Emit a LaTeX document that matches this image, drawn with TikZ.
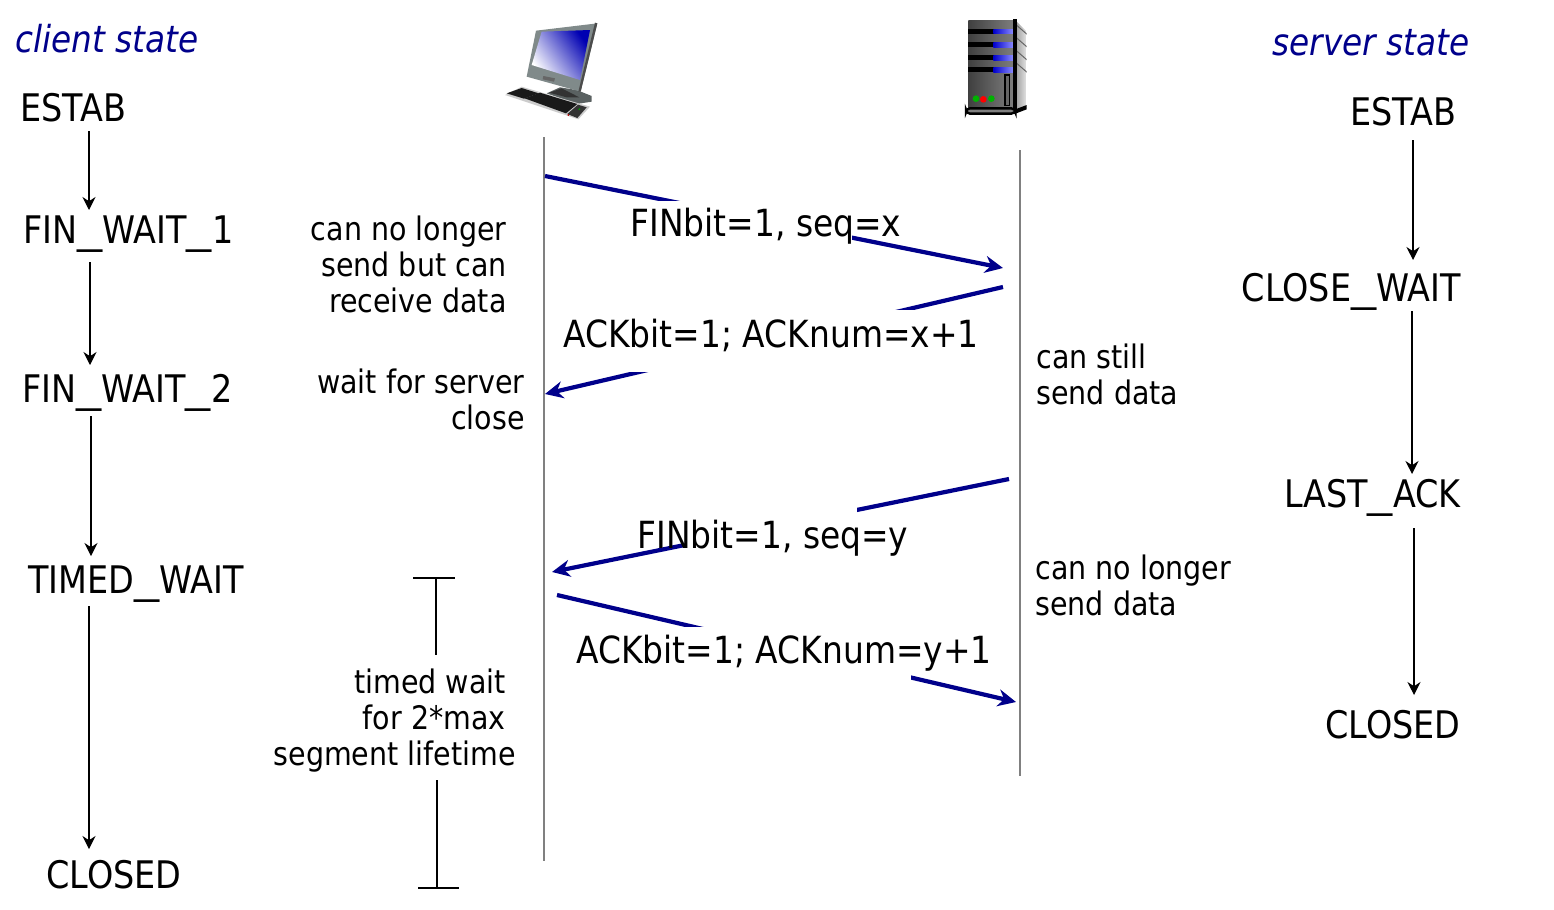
\documentclass[tikz,border=0pt]{standalone}
\usepackage{xcolor}
\usepackage{graphicx}
\usepackage{fontspec}
\setmainfont[FakeStretch=0.88]{DejaVu Sans}
\usetikzlibrary{arrows.meta}
\definecolor{msgblue}{RGB}{0,0,139}
\definecolor{railgray}{RGB}{128,128,128}
\definecolor{framegray}{RGB}{128,138,138}
\newcommand{\ubar}{\scalebox{1.5}[1]{\_}}
\tikzset{
    statelabel/.style={inner sep=0pt,anchor=base west,font=\fontsize{19}{22}\selectfont},
    statelabelr/.style={statelabel,anchor=base east},
    headlabel/.style={inner sep=0pt,anchor=base west,text=msgblue,font=\fontsize{18.6}{22}\selectfont\itshape},
    msglabel/.style={inner sep=0pt,anchor=base west,font=\fontsize{18.7}{22}\selectfont},
    notelabel/.style={inner sep=0pt,font=\fontsize{16.2}{18}\selectfont},
    statearrow/.style={-{Stealth[length=6.5pt,width=6.5pt]},line width=0.6pt,black},
    msgarrow/.style={-{Stealth[length=9pt,width=8.5pt]},line width=2.1pt,msgblue},
    rail/.style={line width=0.7pt,railgray},
    msgmask/.style={fill=white}
}
\begin{document}
\begin{tikzpicture}[x=0.5pt,y=-0.5pt]
    \useasboundingbox (0,0) rectangle (1554,910);

    % Timelines
    \coordinate (clienttop) at (544,137);
    \coordinate (clientbot) at (544,861);
    \coordinate (servertop) at (1020,150);
    \coordinate (serverbot) at (1020,776);
    \draw[rail] (clienttop) -- (clientbot);
    \draw[rail] (servertop) -- (serverbot);

    % Client computer
    \begin{scope}[shift={(490,10)},x=0.16667pt,y=-0.16667pt]
        \fill[framegray!70!black] (170,250) -- (210,232) -- (260,240) -- (305,258) -- (305,275) -- (260,282) -- cycle;
        \fill[black!80] (178,248) -- (215,235) -- (268,262) -- (230,262) -- cycle;
        \fill[framegray] (138,62) -- (322,40) -- (272,245) -- (110,200) -- cycle;
        \fill[black!70] (322,40) -- (315,38) -- (265,245) -- (272,245) -- cycle;
        \shade[left color=white,right color=blue!70!black,shading angle=125] (155,65) -- (300,60) -- (270,210) -- (125,165) -- cycle;
        \fill[black!60] (160,198) -- (195,205) -- (192,215) -- (158,208) -- cycle;
        \fill[gray!40] (45,255) -- (95,230) -- (300,290) -- (265,328) -- cycle;
        \fill[black!90] (50,250) -- (95,234) -- (146,250) -- (102,266) -- cycle;
        \fill[black!90] (104,265) -- (150,248) -- (262,282) -- (228,310) -- cycle;
        \fill[black!80] (232,312) -- (264,284) -- (290,292) -- (262,324) -- cycle;
        \fill[red!70!black] (235,315) circle (3);
        \fill[green!60!black] (268,298) circle (3);
    \end{scope}

    % Server
    \begin{scope}[shift={(950,10)},x=0.16667pt,y=-0.16667pt]
        \shade[left color=black!75,right color=black!50] (55,30) rectangle (195,295);
        \shade[left color=black!40,right color=black!10] (195,30) -- (230,65) -- (230,290) -- (195,305) -- cycle;
        \foreach \y/\h in {58/13,96/15,135/15,172/15} {
            \fill[black] (55,\y) rectangle (135,\y+\h);
            \shade[left color=blue!80!black,right color=blue!45!white] (130,\y) rectangle (190,\y+\h);
            \fill[black!60] (200,\y-14) -- (230,\y+12) -- (230,\y+16) -- (200,\y-10) -- cycle;
        }
        \fill[black] (162,192) rectangle (181,289);
        \fill[black!60] (167,197) rectangle (176,284);
        \fill[green!70!black] (78,266) circle (10);
        \fill[green!70!black] (124,266) circle (10);
        \fill[red] (100,268) circle (10);
        \fill[black] (190,28) rectangle (202,305);
        \draw[line width=1.2pt,black,rounded corners=2pt,fill=black!50] (48,295) rectangle (196,311);
        \fill[black] (196,298) -- (230,285) -- (230,298) -- (196,311) -- cycle;
    \end{scope}

    % Client states
    \node[headlabel] (clienthead) at (15,52) {client state};
    \node[statelabel] (estabc) at (20,121) {ESTAB};
    \node[statelabel] (fwone) at (23,243) {FIN\ubar WAIT\ubar 1};
    \node[statelabel] (fwtwo) at (22,402) {FIN\ubar WAIT\ubar 2};
    \node[statelabel] (timedw) at (28,593) {TIMED\ubar WAIT};
    \node[statelabel] (closedc) at (46,888) {CLOSED};
    \draw[statearrow] ([xshift=34.5pt,yshift=-5pt]estabc.base west) -- ([xshift=33pt,yshift=16.5pt]fwone.base west);
    \draw[statearrow] ([xshift=33.5pt,yshift=-9.5pt]fwone.base west) -- ([xshift=34pt,yshift=18.5pt]fwtwo.base west);
    \draw[statearrow] ([xshift=34.5pt,yshift=-7pt]fwtwo.base west) -- ([xshift=31.5pt,yshift=18.5pt]timedw.base west);
    \draw[statearrow] ([xshift=30.5pt,yshift=-6.5pt]timedw.base west) -- ([xshift=21.5pt,yshift=19.5pt]closedc.base west);

    % Server states
    \node[headlabel,anchor=base east] (serverhead) at (1470,55) {server state};
    \node[statelabelr] (estabs) at (1457,125) {ESTAB};
    \node[statelabelr] (closew) at (1461,301) {CLOSE\ubar WAIT};
    \node[statelabelr] (lastack) at (1461,507) {LAST\ubar ACK};
    \node[statelabelr] (closeds) at (1461,738) {CLOSED};
    \draw[statearrow] ([xshift=-22pt,yshift=-7.5pt]estabs.base east) -- ([xshift=-24pt,yshift=20.5pt]closew.base east);
    \draw[statearrow] ([xshift=-24.5pt,yshift=-5pt]closew.base east) -- ([xshift=-24.5pt,yshift=16.5pt]lastack.base east);
    \draw[statearrow] ([xshift=-23.5pt,yshift=-10.5pt]lastack.base east) -- ([xshift=-23.5pt,yshift=21.5pt]closeds.base east);

    % Messages
    \coordinate (finxa) at (545,176);
    \coordinate (finxb) at (1003,268);
    \coordinate (ackxa) at (1003,287);
    \coordinate (ackxb) at (545,394);
    \coordinate (finya) at (1009,479);
    \coordinate (finyb) at (552,572);
    \coordinate (ackya) at (557,595);
    \coordinate (ackyb) at (1016,702);
    \draw[msgarrow] (finxa) -- (finxb);
    \draw[msgarrow] (ackxa) -- (ackxb);
    \draw[msgarrow] (finya) -- (finyb);
    \draw[msgarrow] (ackya) -- (ackyb);
    \fill[msgmask] (600,201) rectangle (852,260);
    \fill[msgmask] (570,310) rectangle (985,372);
    \fill[msgmask] (683,500) rectangle (857,560);
    \fill[msgmask] (600,627) rectangle (911,690);
    \node[msglabel] (finxlabel) at (630,236) {FINbit=1, seq=x};
    \node[msglabel] (ackxlabel) at (563,347) {ACKbit=1; ACKnum=x+1};
    \node[msglabel] (finylabel) at (637,548) {FINbit=1, seq=y};
    \node[msglabel] (ackylabel) at (576,663) {ACKbit=1; ACKnum=y+1};

    % Notes
    \node[notelabel,align=right,anchor=north east] (nosend) at (507,215) {can no longer\\send but can\\receive data};
    \node[notelabel,align=right,anchor=north east] (waitsrv) at (525,368) {wait for server\\close};
    \node[notelabel,align=left,anchor=north west] (stillsend) at (1036,343) {can still\\send data};
    \node[notelabel,align=left,anchor=north west] (nomore) at (1035,554) {can no longer\\send data};
    \node[notelabel,align=right,anchor=north east] (twlabel) at (516,668) {timed wait\kern5pt\\for 2*max\kern5pt\\segment lifetime};

    % Timed wait bracket
    \coordinate (twtopl) at (413,578);
    \coordinate (twtopr) at (455,578);
    \coordinate (twtopm) at (436,578);
    \coordinate (twtopend) at (436,655);
    \coordinate (twbotend) at (437,780);
    \coordinate (twbotm) at (437,888);
    \coordinate (twbotl) at (418,888);
    \coordinate (twbotr) at (459,888);
    \draw[line width=0.6pt] (twtopl) -- (twtopr);
    \draw[line width=0.6pt] (twtopm) -- (twtopend);
    \draw[line width=0.6pt] (twbotend) -- (twbotm);
    \draw[line width=0.6pt] (twbotl) -- (twbotr);
\end{tikzpicture}
\end{document}
